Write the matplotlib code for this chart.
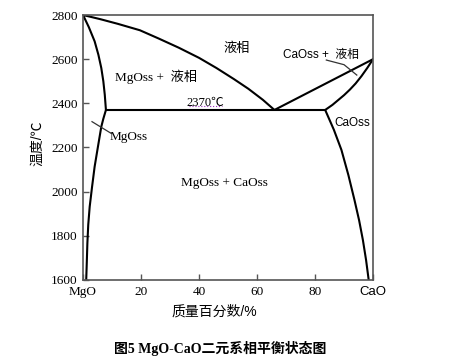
import matplotlib
matplotlib.use("Agg")
import matplotlib.pyplot as plt

# phase boundaries (wt% CaO, temperature in C)
liq_mgo_x = [0, 6, 12, 19.6, 26, 33, 40, 46, 52, 57, 62, 66.0]
liq_mgo_t = [2800, 2781, 2760, 2731, 2694, 2652, 2606, 2560, 2510, 2466, 2416, 2370]
liq_cao_x = [66.0, 100]
liq_cao_t = [2370, 2600]
sol_cao_x = [83.5, 86, 88, 90, 92, 94, 96, 98, 100]
sol_cao_t = [2370, 2393, 2415, 2437, 2462, 2490, 2523, 2560, 2600]
solv_cao_x = [83.5, 86.5, 89.1, 91.5, 93.6, 95.2, 96.5, 97.6, 98.5]
solv_cao_t = [2370, 2280, 2189, 2075, 1962, 1870, 1781, 1690, 1600]
sol_mgo_x = [0, 2.0, 4.0, 5.3, 6.3, 7.0, 7.5, 7.9]
sol_mgo_t = [2800, 2745, 2681, 2620, 2560, 2500, 2439, 2370]
solv_mgo_x = [7.9, 7.0, 6.3, 5.1, 4.0, 3.1, 2.3, 1.8, 1.5, 1.3, 1.1]
solv_mgo_t = [2370, 2330, 2294, 2200, 2113, 2020, 1932, 1850, 1766, 1680, 1600]
eutectic_x = [7.9, 83.5]
eutectic_t = [2370, 2370]

xticks = [0, 20, 40, 60, 80, 100]
xtick_labels = ["MgO", "20", "40", "60", "80", "CaO"]
yticks = [1600, 1800, 2000, 2200, 2400, 2600, 2800]

serif = ["Liberation Serif", "Noto Sans CJK SC"]
sans = ["Liberation Sans", "Noto Sans CJK SC"]

fig = plt.figure(figsize=(4.68, 3.59), dpi=100)
ax = fig.add_axes([0.1774, 0.2201, 0.6197, 0.7381])

for xs, ts in [(liq_mgo_x, liq_mgo_t), (liq_cao_x, liq_cao_t), (sol_cao_x, sol_cao_t),
               (solv_cao_x, solv_cao_t), (sol_mgo_x, sol_mgo_t), (solv_mgo_x, solv_mgo_t),
               (eutectic_x, eutectic_t)]:
    ax.plot(xs, ts, color="black", lw=1.5, solid_capstyle="round", solid_joinstyle="round")

ax.set_xlim(0, 100)
ax.set_ylim(1600, 2800)
for s in ax.spines.values():
    s.set_color("#555555")
    s.set_linewidth(1.2)

ax.set_xticks(xticks)
ax.set_xticklabels(xtick_labels, family=serif, fontsize=9.5)
ax.set_yticks(yticks)
ax.set_yticklabels([str(v) for v in yticks], family=serif, fontsize=9.5)
ax.tick_params(direction="in", length=4, width=1, color="#555555", pad=4)
ax.get_xticklabels()[-1].set_family(sans)

# region labels
ax.text(53, 2646, "液相", family=serif, fontsize=9.5, ha="center", va="center")
ax.text(25.1, 2519, "MgOss +  液相", family=serif, fontsize=9.5, ha="center", va="center")
ax.text(42.2, 2402, "2370℃", family=serif, fontsize=9, ha="center", va="center")
ax.plot([36.5, 48], [2386, 2386], color="#9b30c0", lw=0.8, ls=":")
ax.text(81.9, 2621, "CaOss +  液相", family=sans, fontsize=8.5, ha="center", va="center")
ax.plot([83.9, 90, 94.4], [2596, 2575, 2528], color="#333333", lw=0.9)
ax.text(92.8, 2309, "CaOss", family=sans, fontsize=8.5, ha="center", va="center")
ax.text(15.8, 2249, "MgOss", family=serif, fontsize=9.5, ha="center", va="center")
ax.plot([3.1, 9.7], [2317, 2264], color="#333333", lw=0.9)
ax.text(48.9, 2039, "MgOss + CaOss", family=serif, fontsize=9.5, ha="center", va="center")

fig.text(214 / 468, 1 - 312 / 359, "质量百分数/%", family=sans, fontsize=10,
         ha="center", va="center")
fig.text(37 / 468, 1 - 143 / 359, "温度/℃", family=sans, fontsize=10,
         ha="center", va="center", rotation=90)
fig.text(220 / 468, 1 - 348 / 359, "图5 MgO-CaO二元系相平衡状态图", family=serif,
         fontsize=10, fontweight="bold", ha="center", va="center")

fig.savefig("out.png", dpi=100)
